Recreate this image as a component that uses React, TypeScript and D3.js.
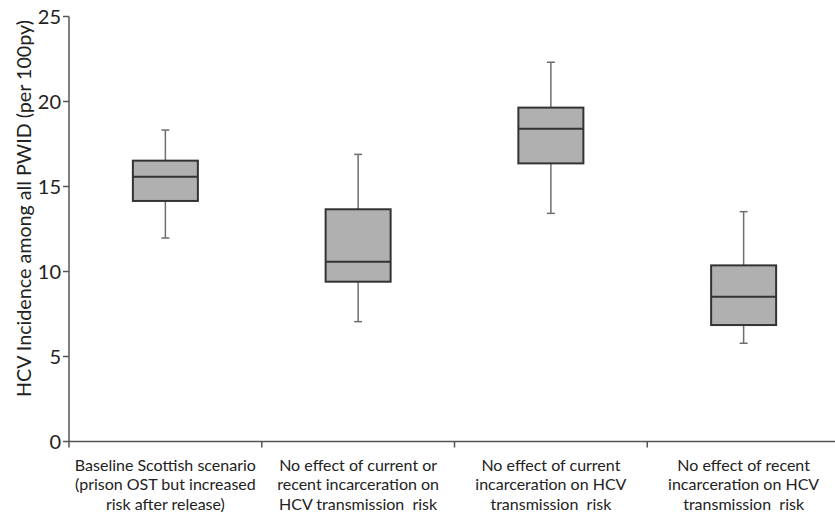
import React from "react";
import * as d3 from "d3";

const categories: string[][] = [
  ["Baseline Scottish scenario", "(prison OST but increased", "risk after release)"],
  ["No effect of current or", "recent incarceration on", "HCV transmission  risk"],
  ["No effect of current", "incarceration on HCV", "transmission  risk"],
  ["No effect of recent", "incarceration on HCV", "transmission  risk"],
];
const whiskerLow = [11.97, 7.05, 13.42, 5.78];
const q1 = [14.15, 9.4, 16.36, 6.85];
const median = [15.58, 10.58, 18.4, 8.52];
const q3 = [16.52, 13.66, 19.64, 10.36];
const whiskerHigh = [18.32, 16.89, 22.31, 13.52];
const yTicks = [0, 5, 10, 15, 20, 25];

const W = 835;
const H = 512;
const FONT = "Lato, 'Open Sans', sans-serif";

export default function App() {
  const x0 = 69;
  const x = d3
    .scaleBand<number>()
    .domain(categories.map((_, i) => i))
    .range([x0, 840])
    .paddingInner(0)
    .paddingOuter(0);
  const y = d3.scaleLinear().domain([0, 25]).range([441.5, 16.5]);
  const bw = 65;
  const capW = 8;
  const boundaries = [x0, ...categories.map((_, i) => (x(i) as number) + x.bandwidth())];

  return (
    <svg
      width={W}
      height={H}
      style={{ position: "absolute", left: 0, top: 0, background: "#fff" }}
      fontFamily={FONT}
    >
      {/* boxes */}
      {categories.map((_, i) => {
        const cx = (x(i) as number) + x.bandwidth() / 2;
        return (
          <g key={i}>
            <line x1={cx} x2={cx} y1={y(whiskerHigh[i])} y2={y(q3[i])} stroke="#6e6e6e" strokeWidth={1.5} />
            <line x1={cx} x2={cx} y1={y(q1[i])} y2={y(whiskerLow[i])} stroke="#6e6e6e" strokeWidth={1.5} />
            <line x1={cx - capW / 2} x2={cx + capW / 2} y1={y(whiskerHigh[i])} y2={y(whiskerHigh[i])} stroke="#6e6e6e" strokeWidth={1.5} />
            <line x1={cx - capW / 2} x2={cx + capW / 2} y1={y(whiskerLow[i])} y2={y(whiskerLow[i])} stroke="#6e6e6e" strokeWidth={1.5} />
            <rect
              x={cx - bw / 2}
              y={y(q3[i])}
              width={bw}
              height={y(q1[i]) - y(q3[i])}
              fill="#b0b0b0"
              stroke="#333"
              strokeWidth={2}
            />
            <line x1={cx - bw / 2} x2={cx + bw / 2} y1={y(median[i])} y2={y(median[i])} stroke="#333" strokeWidth={2} />
          </g>
        );
      })}

      {/* y axis */}
      <line x1={x0} x2={x0} y1={y(25)} y2={y(0)} stroke="#555" strokeWidth={1.5} />
      {yTicks.map((t) => (
        <g key={t}>
          <line x1={x0 - 6} x2={x0} y1={y(t)} y2={y(t)} stroke="#555" strokeWidth={1.5} />
          <text x={61} y={y(t)} dy="0.35em" textAnchor="end" fontSize={20} fill="#222">
            {t}
          </text>
        </g>
      ))}
      <text
        transform={`translate(24,208.5) rotate(-90)`}
        textAnchor="middle"
        dy="0.35em"
        fontSize={19.7}
        fill="#222"
      >
        HCV Incidence among all PWID (per 100py)
      </text>

      {/* x axis */}
      <line x1={x0} x2={W} y1={y(0)} y2={y(0)} stroke="#555" strokeWidth={1.5} />
      {boundaries.map((b, i) => (
        <line key={i} x1={b} x2={b} y1={y(0)} y2={y(0) + 6} stroke="#555" strokeWidth={1.5} />
      ))}
      {categories.map((lines, i) => {
        const cx = (x(i) as number) + x.bandwidth() / 2;
        return (
          <text key={i} textAnchor="middle" fontSize={16} fill="#222">
            {lines.map((l, j) => (
              <tspan key={j} x={cx} y={470.5 + j * 19.5} style={{ whiteSpace: "pre" }}>
                {l}
              </tspan>
            ))}
          </text>
        );
      })}
    </svg>
  );
}
